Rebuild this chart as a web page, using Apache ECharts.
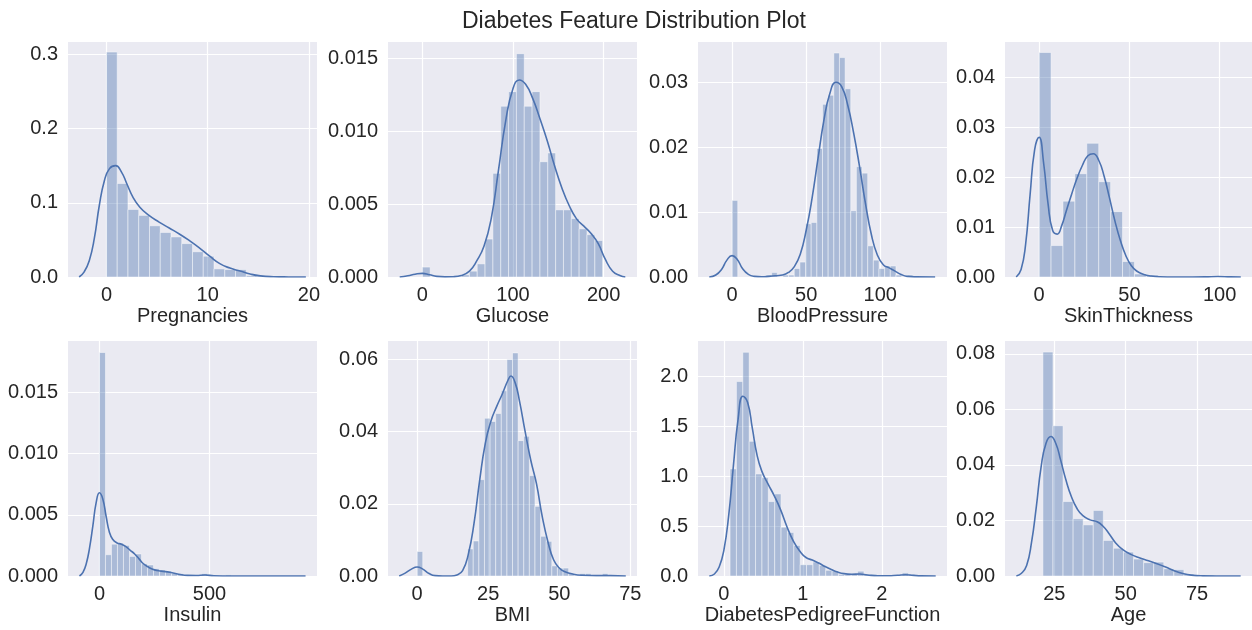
<!DOCTYPE html>
<html>
<head>
<meta charset="utf-8">
<title>Diabetes Feature Distribution Plot</title>
<script src="https://cdn.jsdelivr.net/npm/echarts@6/dist/echarts.min.js"></script>
<style>
  html, body { margin: 0; padding: 0; background: #fff; }
  #chart { width: 1252px; height: 630px; }
</style>
</head>
<body>
<div id="chart"></div>
<script>
const features = ['Pregnancies', 'Glucose', 'BloodPressure', 'SkinThickness', 'Insulin', 'BMI', 'DiabetesPedigreeFunction', 'Age']

// histogram bins: first edge + bin width, heights are densities
const binStart = [0, 0, 0, 0, 0, 0, 0.078, 21]
const binWidth = [1.0625, 8.652, 3.8125, 6.6, 27.29, 1.974, 0.08076, 3.529]

const pregnanciesHist = [0.303, 0.126, 0.091, 0.083, 0.069, 0.060, 0.054, 0.045, 0.034, 0.028, 0.011, 0.010, 0.010, 0.002, 0.001, 0.001]
const glucoseHist = [0.00068, 0, 0, 0, 0, 0.00015, 0.0004, 0.0009, 0.0026, 0.0071, 0.0117, 0.0127, 0.0153, 0.0117, 0.0127, 0.0079, 0.0085, 0.0046, 0.0046, 0.0040, 0.0033, 0.0029, 0.0025]
const bloodPressureHist = [0.0118, 0, 0, 0, 0, 0, 0.0003, 0.0007, 0, 0.0003, 0.0003, 0.0013, 0.0023, 0.0082, 0.0084, 0.0198, 0.0266, 0.0280, 0.0345, 0.0338, 0.0290, 0.0102, 0.0170, 0.0160, 0.0048, 0.0026, 0.0013, 0.0017, 0.0017, 0.0003, 0, 0.0003]
const skinThicknessHist = [0.0450, 0.0063, 0.0152, 0.0207, 0.0268, 0.0191, 0.0131, 0.0031, 0.0006, 0.0004, 0, 0, 0, 0, 0.0002]
const insulinHist = [0.01826, 0.00174, 0.0026, 0.0027, 0.0025, 0.0016, 0.0018, 0.0010, 0.0009, 0.0006, 0.0005, 0.0004, 0.0002, 0.0002, 0.0001, 0.0001, 0.0001, 0.0002, 0.0001, 0.00005, 0.00005, 0.0001, 0, 0, 0, 0, 0, 0, 0, 0, 0.00005]
const bmiHist = [0.0068, 0, 0, 0, 0, 0, 0, 0, 0, 0.0075, 0.0097, 0.0267, 0.0437, 0.0428, 0.0450, 0.0513, 0.0600, 0.0618, 0.0375, 0.0387, 0.0278, 0.0193, 0.0110, 0.0096, 0.0028, 0.0022, 0.0022, 0.0007, 0, 0.0007, 0.0007, 0, 0, 0.0007]
const pedigreeHist = [1.072, 1.947, 2.24, 1.348, 1.022, 0.985, 0.745, 0.822, 0.489, 0.436, 0.306, 0.113, 0.113, 0.140, 0.106, 0.057, 0.050, 0.016, 0.016, 0.016, 0.048, 0.016, 0.016, 0, 0, 0, 0, 0.032, 0.016]
const ageHist = [0.0806, 0.0541, 0.0268, 0.0206, 0.0184, 0.0236, 0.0128, 0.0100, 0.0086, 0.0061, 0.0048, 0.0050, 0.0026, 0.0023, 0.0007, 0, 0.0004]

// kde curves, [x, density]
const pregnanciesKde = [[-2.7, 0], [-2.2, 0.007], [-1.7, 0.022], [-1.2, 0.052], [-0.7, 0.097], [-0.2, 0.130], [0.3, 0.146], [0.9, 0.150], [1.5, 0.141], [2.0, 0.126], [2.6, 0.108], [3.3, 0.094], [4.2, 0.083], [5.2, 0.074], [6.2, 0.066], [7.2, 0.058], [8.2, 0.049], [9.2, 0.039], [10.2, 0.028], [11.2, 0.018], [12.2, 0.012], [13.2, 0.008], [14.2, 0.004], [15.2, 0.0015], [16.5, 0.0004], [18, 0.0001], [19.7, 0]]
const glucoseKde = [[-25, 0], [-16, 0.00008], [-8, 0.00019], [0, 0.00025], [8, 0.00015], [16, 0.00004], [25, 0.00001], [34, 0.00002], [43, 0.0001], [52, 0.0004], [60, 0.0011], [68, 0.0021], [76, 0.0040], [84, 0.0073], [92, 0.0107], [100, 0.0129], [107, 0.0135], [114, 0.0132], [122, 0.0122], [130, 0.0108], [138, 0.0093], [146, 0.0076], [154, 0.0061], [162, 0.0049], [170, 0.0040], [178, 0.0035], [186, 0.0030], [194, 0.0023], [202, 0.0012], [210, 0.0004], [218, 0.0001], [224, 0]]
const bloodPressureKde = [[-15.4, 0], [-11, 0.0003], [-7, 0.0012], [-3.5, 0.0026], [0, 0.0033], [3.5, 0.0027], [7, 0.0013], [11, 0.0004], [15, 0.0001], [20, 0.00003], [25, 0.0001], [30, 0.0002], [34, 0.0003], [38, 0.0007], [42, 0.0016], [46, 0.0035], [50, 0.0072], [54, 0.0122], [58, 0.0183], [62, 0.0242], [66, 0.0283], [70, 0.0300], [74, 0.0293], [78, 0.0265], [82, 0.0222], [86, 0.0170], [90, 0.0113], [94, 0.0065], [98, 0.0034], [102, 0.0019], [106, 0.0014], [110, 0.0009], [114, 0.0004], [118, 0.0001], [124, 0.00002], [137, 0]]
const skinThicknessKde = [[-12.7, 0], [-10, 0.0015], [-7.5, 0.0065], [-5, 0.0165], [-2.5, 0.0255], [0, 0.0280], [2.5, 0.0228], [5, 0.0145], [7.5, 0.0093], [10, 0.0086], [12.5, 0.0103], [15, 0.0132], [18, 0.0166], [21, 0.0198], [24, 0.0224], [27, 0.0243], [30, 0.0247], [33, 0.0234], [36, 0.0202], [39, 0.0158], [42, 0.0112], [45, 0.0073], [48, 0.0043], [51, 0.0023], [54, 0.0012], [58, 0.0005], [62, 0.0002], [67, 0.00005], [75, 0], [85, 0], [92, 0.00002], [99, 0.0001], [106, 0.00002], [111.7, 0]]
const insulinKde = [[-91, 0], [-75, 0.0003], [-60, 0.0010], [-45, 0.0023], [-30, 0.0041], [-15, 0.0060], [0, 0.0068], [15, 0.0063], [30, 0.0049], [45, 0.0036], [60, 0.0030], [80, 0.0027], [100, 0.0026], [120, 0.0024], [140, 0.0021], [160, 0.0018], [180, 0.0014], [200, 0.0010], [225, 0.0007], [250, 0.0005], [280, 0.0004], [320, 0.0003], [360, 0.00015], [400, 0.00005], [440, 0.00004], [480, 0.00008], [520, 0.00002], [600, 0], [937, 0]]
const bmiKde = [[-6.3, 0], [-4.2, 0.0008], [-2, 0.0019], [0, 0.0025], [2, 0.0019], [4.2, 0.0007], [6.3, 0.0001], [9, 0], [12, 0], [14, 0.0003], [16, 0.0015], [18, 0.006], [20, 0.0145], [22, 0.0265], [24, 0.0368], [26, 0.043], [28, 0.047], [30, 0.0505], [32, 0.0543], [33, 0.0554], [34.5, 0.0535], [36, 0.0485], [38, 0.040], [40, 0.032], [42, 0.0255], [44, 0.0165], [46, 0.0095], [48, 0.0045], [50, 0.0022], [52, 0.0012], [55, 0.0005], [58, 0.0002], [63, 0.0001], [68, 0.0001], [73.4, 0]]
const pedigreeKde = [[-0.185, 0], [-0.12, 0.02], [-0.06, 0.09], [0, 0.26], [0.06, 0.6], [0.12, 1.1], [0.18, 1.57], [0.24, 1.80], [0.30, 1.74], [0.36, 1.48], [0.42, 1.21], [0.48, 1.05], [0.56, 0.92], [0.64, 0.80], [0.72, 0.66], [0.80, 0.49], [0.88, 0.35], [0.96, 0.25], [1.04, 0.185], [1.12, 0.16], [1.2, 0.13], [1.28, 0.095], [1.36, 0.065], [1.44, 0.04], [1.52, 0.024], [1.62, 0.018], [1.72, 0.02], [1.82, 0.01], [1.95, 0.003], [2.08, 0.003], [2.2, 0.008], [2.3, 0.013], [2.4, 0.006], [2.5, 0.001], [2.683, 0]]
const ageKde = [[11.7, 0], [13.5, 0.001], [15.3, 0.0038], [17, 0.012], [18.7, 0.025], [20.4, 0.0395], [22.1, 0.0478], [23.8, 0.0502], [25.5, 0.0478], [27.2, 0.0418], [29, 0.0348], [31, 0.0285], [33, 0.0242], [35, 0.0217], [37.5, 0.0202], [40, 0.0195], [42, 0.0180], [44, 0.0155], [46.5, 0.0119], [49, 0.0095], [52, 0.0077], [55, 0.0065], [58, 0.0055], [61, 0.0044], [64, 0.0032], [67, 0.0019], [70, 0.0009], [73, 0.0003], [77, 0.00005], [82, 0], [90.3, 0]]

const hists = [pregnanciesHist, glucoseHist, bloodPressureHist, skinThicknessHist, insulinHist, bmiHist, pedigreeHist, ageHist]
const kdes = [pregnanciesKde, glucoseKde, bloodPressureKde, skinThicknessKde, insulinKde, bmiKde, pedigreeKde, ageKde]

// axis ranges and ticks
const xMin = [-3.8, -37.9, -23.0, -18.9, -143, -10.24, -0.328, 7.72]
const xMax = [20.8, 236.9, 145.0, 117.9, 989, 77.34, 2.826, 94.27]
const yMax = [0.3166, 0.0161, 0.0362, 0.0471, 0.0192, 0.0651, 2.353, 0.0846]
const xTicks = [[0, 10, 20], [0, 100, 200], [0, 50, 100], [0, 50, 100], [0, 500], [0, 25, 50, 75], [0, 1, 2], [25, 50, 75]]
const yTicks = [[0, 0.1, 0.2, 0.3], [0, 0.005, 0.01, 0.015], [0, 0.01, 0.02, 0.03], [0, 0.01, 0.02, 0.03, 0.04], [0, 0.005, 0.01, 0.015], [0, 0.02, 0.04, 0.06], [0, 0.5, 1, 1.5, 2], [0, 0.02, 0.04, 0.06, 0.08]]
const yDecimals = [1, 3, 2, 2, 3, 2, 1, 2]

const textColor = '#262626'
const fontFamily = 'Arial, "Liberation Sans", sans-serif'
const lefts = [68, 388, 698, 1005]
const tops = [42, 341]

function renderBar (params, api) {
  let h = api.value(2)
  if (!h) return null
  let start = api.coord([api.value(0), 0])
  let end = api.coord([api.value(1), h])
  return {
    type: 'rect',
    shape: { x: start[0], y: end[1], width: end[0] - start[0], height: start[1] - end[1] },
    style: { fill: 'rgba(76,114,176,0.4)', stroke: 'rgba(255,255,255,0.45)', lineWidth: 1 }
  }
}

let grid = []
let xAxis = []
let yAxis = []
let series = []

features.forEach((name, i) => {
  grid.push({
    left: lefts[i % 4], top: tops[Math.floor(i / 4)], width: 249, height: 235,
    show: true, backgroundColor: '#EAEAF2', borderWidth: 0
  })
  xAxis.push({
    type: 'value', gridIndex: i, min: xMin[i], max: xMax[i],
    name: name, nameLocation: 'middle', nameGap: 29,
    nameTextStyle: { fontSize: 20, color: textColor, fontFamily },
    axisLine: { show: false },
    axisTick: { show: false, customValues: xTicks[i] },
    axisLabel: { customValues: xTicks[i], fontSize: 20, color: textColor, fontFamily, margin: 8 },
    splitLine: { show: true, lineStyle: { color: '#fff', width: 1.2 } }
  })
  yAxis.push({
    type: 'value', gridIndex: i, min: 0, max: yMax[i],
    axisLine: { show: false },
    axisTick: { show: false, customValues: yTicks[i] },
    axisLabel: {
      customValues: yTicks[i], fontSize: 20, color: textColor, fontFamily, margin: 10,
      formatter: v => v.toFixed(yDecimals[i])
    },
    splitLine: { show: true, lineStyle: { color: '#fff', width: 1.2 } }
  })
  let bars = hists[i].map((h, k) => [binStart[i] + k * binWidth[i], binStart[i] + (k + 1) * binWidth[i], h])
  series.push({
    type: 'custom', xAxisIndex: i, yAxisIndex: i, renderItem: renderBar,
    encode: { x: [0, 1], y: 2 }, data: bars, clip: true, silent: true, z: 2
  })
  series.push({
    type: 'line', xAxisIndex: i, yAxisIndex: i, data: kdes[i],
    smooth: 0.5, showSymbol: false, silent: true, z: 3,
    lineStyle: { color: '#4C72B0', width: 1.6 }
  })
})

let chart = echarts.init(document.getElementById('chart'))
chart.setOption({
  backgroundColor: '#fff',
  animation: false,
  title: {
    text: 'Diabetes Feature Distribution Plot', left: 457, top: 5,
    textStyle: { fontSize: 23, fontWeight: 'normal', color: textColor, fontFamily }
  },
  grid, xAxis, yAxis, series
})
</script>
</body>
</html>
